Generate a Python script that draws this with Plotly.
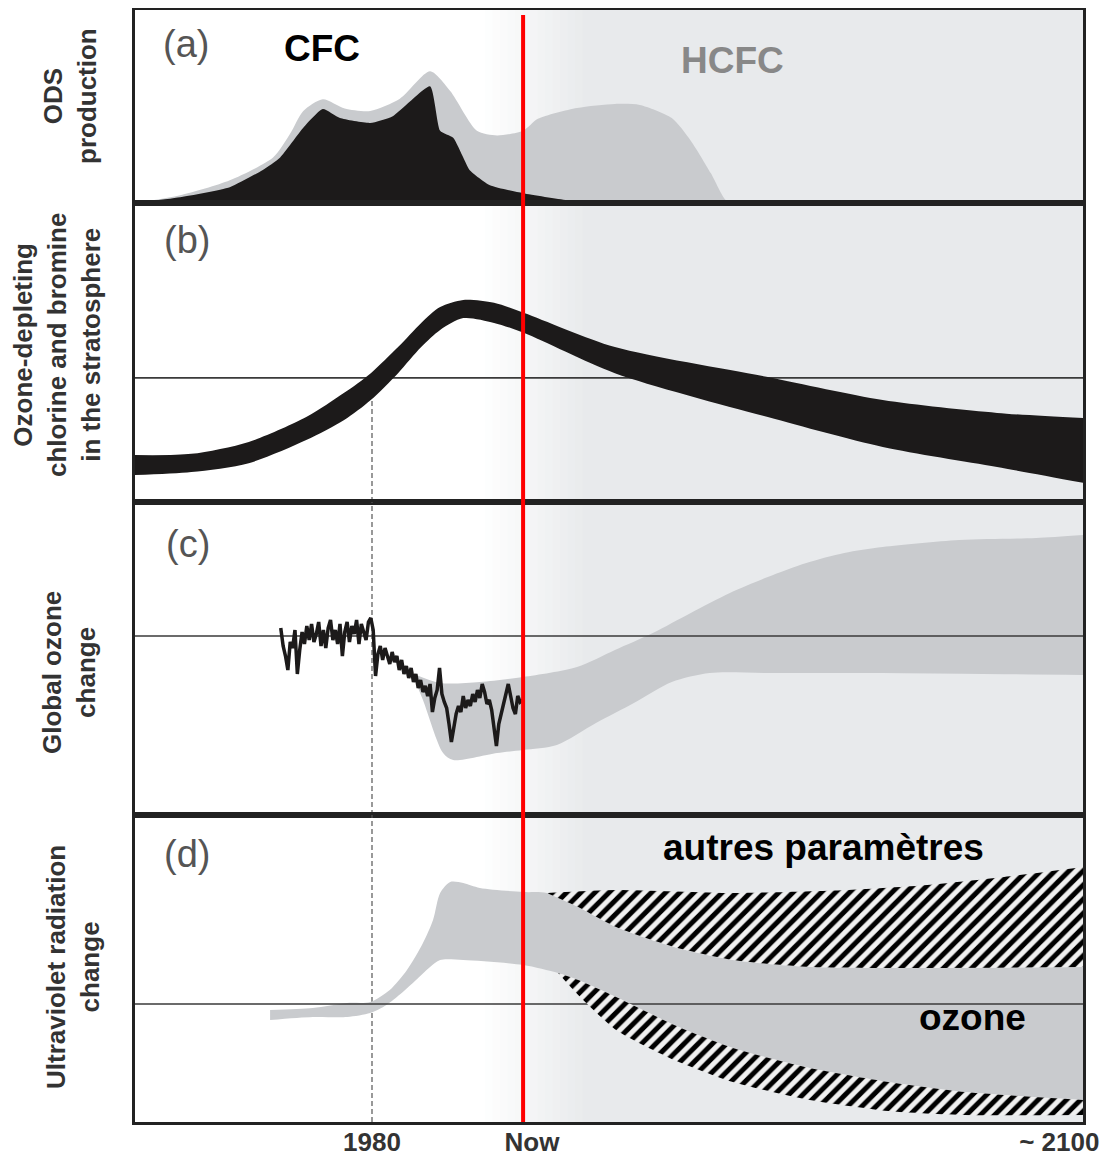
import plotly.graph_objects as go

# ---------------- data ----------------
X_RANGE = [1940, 2100]
NOW = 2005.5
YEAR_1980 = 1980
TICK_VALS = [1980, 2007, 2096]
TICK_TEXT = ["1980", "Now", "~ 2100"]

# (a) ODS production, relative units (0-100)
a_cfc_years = [1940, 1947.6, 1956, 1961.5, 1964.5, 1968.4, 1971.7, 1974.6, 1979.7, 1983.5,
               1989.8, 1991.5, 1993.7, 1995.4, 1996.5, 1999.9, 2005.5, 2012.9, 2018.5]
a_cfc = [0, 3, 8.2, 17, 23.6, 39, 48.7, 44, 41.5, 45,
         60.5, 37.4, 33.8, 23.6, 17, 9.2, 5.1, 1.5, 0]
a_total_years = [1940, 1947.6, 1956, 1963.3, 1966.2, 1968.4, 1971.7, 1975.4, 1979.7, 1984.7,
                 1989.8, 1993.2, 1997.7, 2001.1, 2005.5, 2008, 2014.6, 2021, 2025.2, 2030.6,
                 2033.8, 2037.2, 2039.7, 2041]
a_total = [0, 4, 11.8, 23.6, 36, 47.7, 53.8, 49, 47.7, 54,
           68.2, 58, 37.4, 35, 37.4, 43.6, 49.2, 51.3, 50.8, 44,
           32.3, 15.4, 1.5, 0]

# (b) stratospheric chlorine + bromine, relative units (0-100)
b_years = [1940, 1949.5, 1959.2, 1968.9, 1975.3, 1979.8, 1984.4, 1988.3, 1991.5, 1995.4,
           2000.6, 2005.7, 2021, 2046.8, 2066.2, 2085.5, 2100]
b_upper = [15.7, 16.1, 20.1, 28.4, 36.5, 43.1, 51.8, 59.9, 65.2, 67.6,
           66.6, 63.2, 51.8, 41.8, 34.1, 29.8, 28.1]
b_lower = [9.0, 10.0, 13.0, 20.7, 27.4, 34.1, 43.1, 51.8, 57.5, 61.5,
           59.9, 56.5, 43.1, 28.4, 18.4, 11.7, 6.4]
b_ref = 41.5

# (c) global ozone change (%)
c_obs_start, c_obs_step = 1964.6, 0.4
c_obs = [0.4, -0.5, -1.0, -1.7, -0.3, -0.6, 0.3, -1.9, -0.7, 0.2,
         -0.4, 0.5, -0.2, 0.6, -0.3, 0.1, 0.7, -0.5, 0.3, -0.6,
         0.4, 0.8, -0.2, 0.3, -0.4, 0.6, -1.0, 0.2, 0.7, -0.3,
         0.5, 0.1, 0.8, -0.4, 0.6, 0.2, -0.2, 0.7, 0.9, 0.3,
         -2.0, -0.9, -0.5, -1.2, -0.6, -1.0, -1.4, -0.8, -1.3, -1.0,
         -1.7, -1.2, -1.9, -1.5, -2.1, -1.6, -2.3, -1.9, -2.6, -2.2,
         -2.8, -2.5, -3.0, -2.4, -3.8, -3.1, -2.7, -1.6, -2.9, -3.3,
         -3.6, -4.4, -5.3, -4.6, -3.9, -3.5, -3.8, -3.0, -3.6, -3.2,
         -3.5, -2.9, -3.3, -2.7, -3.1, -2.4, -2.8, -3.4, -3.2, -3.7,
         -4.6, -5.5, -4.4, -3.8, -3.4, -2.9, -2.4, -3.0, -3.6, -3.9,
         -3.0, -3.3, -3.2]
c_up_years = [1986.7, 1991.5, 1998.2, 2005.5, 2014.6, 2021, 2027.4, 2033.8, 2040.4, 2046.8,
              2053.3, 2059.7, 2066.2, 2079.1, 2092.1, 2100]
c_up = [-1.85, -2.35, -2.3, -2.05, -1.55, -0.7, 0.15, 1.15, 2.15, 2.95,
        3.65, 4.15, 4.45, 4.8, 4.9, 5.05]
c_lo_years = [1986.7, 1988.6, 1992, 1993.7, 2001.1, 2005.5, 2011.2, 2017.8, 2024.2, 2030.6,
              2037, 2046.8, 2066.2, 2100]
c_lo = [-1.85, -3.2, -5.85, -6.2, -5.85, -5.7, -5.45, -4.35, -3.35, -2.3,
        -1.85, -1.85, -1.85, -1.95]
c_range = [-8.95, 6.7]

# (d) UV radiation change (%)
d_up_years = [1962.8, 1970, 1975.8, 1979.7, 1983, 1985.9, 1988.6, 1990.3, 1991.5, 1993.2,
              1995.4, 1998.2, 2005.5, 2009.5, 2014.8, 2021.2, 2031, 2040.9, 2053.9, 2067.1, 2100]
d_up = [-0.3, -0.2, 0.05, 0.1, 0.7, 1.7, 3.05, 4.2, 5.55, 6.1,
        6.05, 5.8, 5.6, 5.55, 4.85, 3.85, 2.85, 2.2, 1.85, 1.8, 1.85]
d_lo_years = [1962.8, 1970, 1975.8, 1979.7, 1981.9, 1984.2, 1986.9, 1989.8, 1991.5, 1995.4,
              2005.5, 2011.4, 2014.8, 2021.2, 2031, 2040.9, 2053.9, 2067.1, 2080.1, 2100]
d_lo = [-0.8, -0.65, -0.65, -0.45, -0.15, 0.35, 1.05, 1.85, 2.2, 2.2,
        1.95, 1.55, 1.2, 0.35, -1.05, -2.2, -3.2, -3.9, -4.4, -4.8]
d_hatch_top_years = [2009.5, 2021.2, 2040.9, 2060.5, 2073.7, 2086.7, 2100]
d_hatch_top = [5.55, 5.7, 5.55, 5.7, 5.95, 6.35, 6.85]
d_hatch_bot_years = [2011.4, 2014.8, 2021.2, 2031, 2040.9, 2053.9, 2067.1, 2080.1, 2100]
d_hatch_bot = [1.55, 0.45, -1.3, -2.8, -3.9, -4.8, -5.35, -5.55, -5.55]
d_range = [-5.9, 9.45]

# ---------------- styling ----------------
BLACK = "#1c1a1a"
GRAY = "#c9cbce"
FRAME = "#222222"
FONT = "Arial, Liberation Sans, Helvetica, sans-serif"
HATCH = dict(shape="/", size=10, solidity=0.5, fgcolor="#000000", fgopacity=1, bgcolor="#f0f0f0")

fig = go.Figure()


def edge(xs, ys, xa, ya, smooth=0.8):
    fig.add_trace(go.Scatter(x=xs, y=ys, mode="lines", xaxis=xa, yaxis=ya, hoverinfo="skip",
                             line=dict(width=0, color="rgba(0,0,0,0)", shape="spline", smoothing=smooth)))


def fill_edge(xs, ys, xa, ya, color, pattern=None, smooth=0.8):
    kw = dict(fillpattern=pattern) if pattern else {}
    fig.add_trace(go.Scatter(x=xs, y=ys, mode="lines", xaxis=xa, yaxis=ya, hoverinfo="skip",
                             fill="tonexty", fillcolor=color,
                             line=dict(width=0, color="rgba(0,0,0,0)", shape="spline", smoothing=smooth),
                             **kw))


def hline(xa, ya, y):
    fig.add_trace(go.Scatter(x=X_RANGE, y=[y, y], mode="lines", xaxis=xa, yaxis=ya,
                             line=dict(color="#3a3a3a", width=1.6), hoverinfo="skip"))


def vdash(xa, ya, y0, y1):
    fig.add_trace(go.Scatter(x=[YEAR_1980, YEAR_1980], y=[y0, y1], mode="lines", xaxis=xa, yaxis=ya,
                             line=dict(color="#555", width=1.2, dash="5px,3px"), hoverinfo="skip"))


# (a)
fig.add_trace(go.Scatter(x=a_total_years, y=a_total, mode="lines", fill="tozeroy",
                         fillcolor=GRAY, line=dict(color=GRAY, width=0, shape="spline", smoothing=0.7),
                         xaxis="x", yaxis="y", hoverinfo="skip"))
fig.add_trace(go.Scatter(x=a_cfc_years, y=a_cfc, mode="lines", fill="tozeroy",
                         fillcolor=BLACK, line=dict(color=BLACK, width=0, shape="spline", smoothing=0.5),
                         xaxis="x", yaxis="y", hoverinfo="skip"))

# (b)
hline("x2", "y2", b_ref)
vdash("x2", "y2", 0, b_lower[5])
edge(b_years, b_lower, "x2", "y2")
fill_edge(b_years, b_upper, "x2", "y2", BLACK)

# (c)
edge(c_lo_years, c_lo, "x3", "y3")
fill_edge(c_up_years, c_up, "x3", "y3", GRAY)
hline("x3", "y3", 0)
vdash("x3", "y3", c_range[0], c_range[1])
c_obs_years = [c_obs_start + i * c_obs_step for i in range(len(c_obs))]
fig.add_trace(go.Scatter(x=c_obs_years, y=c_obs, mode="lines",
                         line=dict(color=BLACK, width=3.5), xaxis="x3", yaxis="y3", hoverinfo="skip"))

# (d)
vdash("x4", "y4", d_range[0], d_range[1])
edge(d_lo_years, d_lo, "x4", "y4")
fill_edge(d_up_years, d_up, "x4", "y4", GRAY)
hline("x4", "y4", 0)
i0 = d_up_years.index(2009.5)
edge(d_up_years[i0:], d_up[i0:], "x4", "y4", 0.6)
fill_edge(d_hatch_top_years, d_hatch_top, "x4", "y4", "#f0f0f0", HATCH, 0.6)
j0 = d_lo_years.index(2011.4)
edge(d_lo_years[j0:], d_lo[j0:], "x4", "y4", 0.6)
fill_edge(d_hatch_bot_years, d_hatch_bot, "x4", "y4", "#f0f0f0", HATCH, 0.6)

# ---------------- layout ----------------
# the page has an 8px body margin, so the figure is 1100x1150
W, H = 1100, 1150
L, R, T, B = 127, 25, 2, 36
PAGE_LEFT, PAGE_BOTTOM = 135, 1122
PW, PH = W - L - R, H - T - B


def px_x(px):
    return (px - PAGE_LEFT) / PW


def px_y(py):
    return (PAGE_BOTTOM - py) / PH


edges = [10, 203, 502, 815, 1122]
doms = [[px_y(edges[i + 1]), px_y(edges[i])] for i in range(4)]
doms[0][1] = 1.0
doms[3][0] = 0.0

axis_common = dict(showline=True, mirror=True, linecolor=FRAME, linewidth=3, automargin=False,
                   showgrid=False, zeroline=False, ticks="", fixedrange=True)

layout = dict(width=W, height=H, margin=dict(l=L, r=R, t=T, b=B, autoexpand=False),
              paper_bgcolor="white", plot_bgcolor="rgba(0,0,0,0)", showlegend=False,
              font=dict(family=FONT))
yranges = [[0, 100], [0, 100], c_range, d_range]
for i in range(4):
    xn = "xaxis" if i == 0 else f"xaxis{i + 1}"
    yn = "yaxis" if i == 0 else f"yaxis{i + 1}"
    layout[xn] = dict(axis_common, range=X_RANGE, domain=[0, 1],
                      anchor="y" if i == 0 else f"y{i + 1}", showticklabels=(i == 3))
    layout[yn] = dict(axis_common, range=yranges[i], domain=doms[i],
                      anchor="x" if i == 0 else f"x{i + 1}", showticklabels=False)
layout["xaxis4"].update(tickvals=TICK_VALS, ticktext=[f"<b>{t}</b>" for t in TICK_TEXT],
                        tickfont=dict(size=26, color="#333", family=FONT), ticklabelstandoff=-5)
fig.update_layout(**layout)

# background gradient to the right of "Now"
g0, g1, n = 485, 590, 14
c_end = (232, 234, 236)
for k in range(n):
    t = (k + 1) / n
    col = tuple(int(round(255 + (ce - 255) * t)) for ce in c_end)
    xa = g0 + (g1 - g0) * k / n
    xb = g0 + (g1 - g0) * (k + 1) / n + 0.5
    fig.add_shape(type="rect", xref="paper", yref="paper", x0=px_x(xa), x1=px_x(xb), y0=0, y1=1,
                  fillcolor=f"rgb{col}", line=dict(width=0), layer="below")
fig.add_shape(type="rect", xref="paper", yref="paper", x0=px_x(g1), x1=1, y0=0, y1=1,
              fillcolor=f"rgb{c_end}", line=dict(width=0), layer="below")

# red "Now" line
fig.add_shape(type="line", xref="x", yref="paper", x0=NOW, x1=NOW, y0=0, y1=px_y(15),
              line=dict(color="#ff0000", width=4), layer="above")

# panel letters
for lab, (px, py) in zip(["(a)", "(b)", "(c)", "(d)"], [(186, 44), (187, 240), (188, 544), (187, 854)]):
    fig.add_annotation(xref="paper", yref="paper", x=px_x(px), y=px_y(py), text=lab, showarrow=False,
                       font=dict(size=38, color="#555", family=FONT), xanchor="center", yanchor="middle")

# labels inside plots
for txt, (px, py), col in [("CFC", (322, 48), "#000"), ("HCFC", (732, 60), "#888"),
                            ("autres paramètres", (823, 847), "#000"), ("ozone", (972, 1017), "#000")]:
    fig.add_annotation(xref="paper", yref="paper", x=px_x(px), y=px_y(py), text=f"<b>{txt}</b>",
                       showarrow=False, font=dict(size=37, color=col, family=FONT),
                       xanchor="center", yanchor="middle")

# y titles
for txt, (px, py) in [("ODS<br>production", (70, 96)),
                      ("Ozone-depleting<br>chlorine and bromine<br>in the stratosphere", (57, 345)),
                      ("Global ozone<br>change", (69, 673)),
                      ("Ultraviolet radiation<br>change", (73, 967))]:
    fig.add_annotation(xref="paper", yref="paper", x=px_x(px), y=px_y(py), text=f"<b>{txt}</b>",
                       showarrow=False, textangle=-90, align="center",
                       font=dict(size=26, color="#333", family=FONT),
                       xanchor="center", yanchor="middle")

fig.write_html("out.html")
